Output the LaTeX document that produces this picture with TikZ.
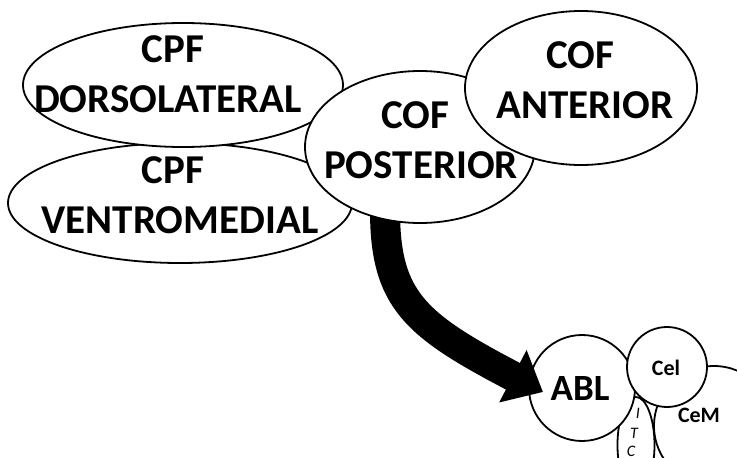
\documentclass[tikz,border=0pt]{standalone}
\usepackage{fontspec}
\setmainfont{Carlito}
\usetikzlibrary{shapes.geometric,arrows.meta}
\tikzset{
  region/.style={draw=black,line width=1.8pt,fill=white,ellipse,inner sep=0pt},
  bigtxt/.style={font=\fontsize{41}{41}\selectfont\bfseries,anchor=base,inner sep=0pt},
  abltxt/.style={font=\fontsize{37}{37}\selectfont\bfseries,anchor=base,inner sep=0pt},
  midtxt/.style={font=\fontsize{22}{22}\selectfont\bfseries,anchor=base,inner sep=0pt},
  itctxt/.style={font=\fontsize{16}{16}\selectfont\itshape,anchor=base,inner sep=0pt},
  proj/.style={line width=30pt,-{Triangle[width=57pt,length=34pt]}}
}
\begin{document}
\begin{tikzpicture}[x=1pt,y=-1pt]
\path[use as bounding box] (0,0) rectangle (737,458);
% amygdala nuclei
\node[region,minimum width=120pt,minimum height=120pt] (cem) at (714,426) {};
\node[region,minimum width=37pt,minimum height=96pt] (itc) at (636,445) {};
\node[region,minimum width=106pt,minimum height=106pt] (abl) at (582,388) {};
\node[region,minimum width=80pt,minimum height=80pt] (cel) at (667,367) {};
\node[abltxt] (ablt) at (580,400) {ABL};
\node[midtxt] (celt) at (666,375) {Cel};
\node[midtxt] (cemt) at (699,422) {CeM};
\node[itctxt] (itci) at (638,418) {I};
\node[itctxt] (itct) at (634,438) {T};
\node[itctxt] (itcc) at (631,456) {C};
% projection arrow
\coordinate (arrS) at (385,210);
\coordinate (arrE) at (543,392);
\draw[proj] (arrS) .. controls (385,300) and (415,325) .. (arrE);
% prefrontal regions
\node[region,minimum width=344pt,minimum height=120pt] (vm) at (180,203) {};
\node[region,minimum width=320pt,minimum height=124pt] (dl) at (183,85) {};
\node[region,minimum width=230pt,minimum height=152pt] (post) at (420,147) {};
\node[region,minimum width=232pt,minimum height=154pt] (ant) at (581,88) {};
\node[bigtxt] (vm1) at (173,183) {CPF};
\node[bigtxt] (vm2) at (180,233) {VENTROMEDIAL};
\node[bigtxt] (dl1) at (173,62) {CPF};
\node[bigtxt] (dl2) at (168,112) {DORSOLATERAL};
\node[bigtxt] (po1) at (415,128) {COF};
\node[bigtxt] (po2) at (421,178) {POSTERIOR};
\node[bigtxt] (an1) at (580,68) {COF};
\node[bigtxt] (an2) at (585,118) {ANTERIOR};
\end{tikzpicture}
\end{document}
